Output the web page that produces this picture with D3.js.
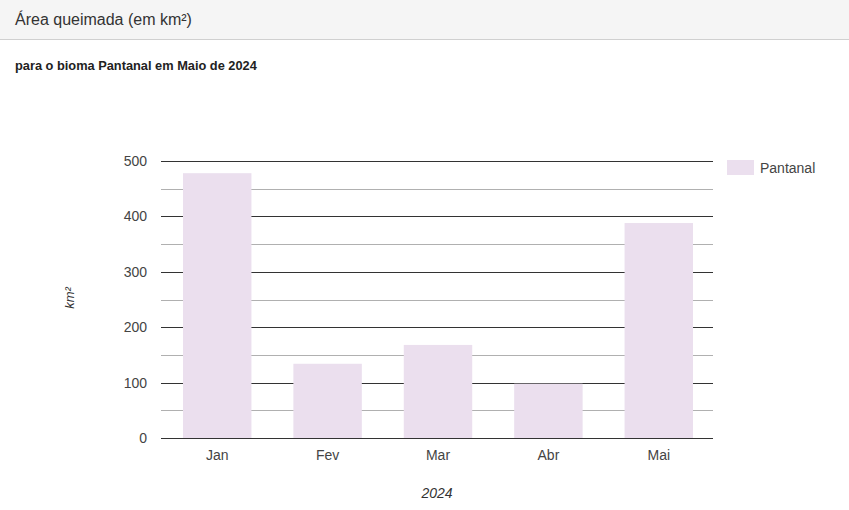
<!DOCTYPE html>
<html><head><meta charset="utf-8">
<script src="https://cdn.jsdelivr.net/npm/d3@7"></script>
<style>
body{margin:0;background:#fff;font-family:Arial,"Liberation Sans",sans-serif;}
</style></head>
<body><svg id="c" width="849" height="510"></svg>
<script>
const categories = ["Jan","Fev","Mar","Abr","Mai"];
const values = [478, 134, 168, 98, 388];
const seriesName = "Pantanal";
const yTicks = [0,100,200,300,400,500];
const yMinor = [50,150,250,350,450];

const svg = d3.select("#c");
const W=849,H=510;
svg.append("rect").attr("x",0).attr("y",0).attr("width",W).attr("height",39).attr("fill","#f5f5f5");
svg.append("line").attr("x1",0).attr("x2",W).attr("y1",39.5).attr("y2",39.5).attr("stroke","#d0d0d0");
svg.append("text").attr("x",15).attr("y",25).attr("font-size",16).attr("fill","#333").text("Área queimada (em km²)");
svg.append("text").attr("x",15).attr("y",70).attr("font-size",12.8).attr("font-weight","bold").attr("fill","#222").text("para o bioma Pantanal em Maio de 2024");

const x = d3.scaleBand().domain(categories).range([162,714]).paddingInner(0.38).paddingOuter(0.19);
const y = d3.scaleLinear().domain([0,500]).range([438,161]);

const g = svg.append("g");
g.selectAll("line.minor").data(yMinor).join("line").attr("class","minor")
 .attr("x1",161).attr("x2",713).attr("y1",d=>Math.round(y(d))+0.5).attr("y2",d=>Math.round(y(d))+0.5)
 .attr("stroke","#b0b0b0").attr("stroke-width",1);
g.selectAll("line.major").data(yTicks).join("line").attr("class","major")
 .attr("x1",161).attr("x2",713).attr("y1",d=>Math.round(y(d))+0.5).attr("y2",d=>Math.round(y(d))+0.5)
 .attr("stroke","#333").attr("stroke-width",1);

g.selectAll("rect.bar").data(values).join("rect").attr("class","bar")
 .attr("x",(d,i)=>x(categories[i])).attr("width",x.bandwidth())
 .attr("y",d=>y(d)).attr("height",d=>y(0)-y(d)).attr("fill","#ebdfee");

g.append("line").attr("x1",161).attr("x2",713).attr("y1",Math.round(y(0))+0.5).attr("y2",Math.round(y(0))+0.5).attr("stroke","#333");

const yAxis = d3.axisLeft(y).tickValues(yTicks).tickSize(0).tickPadding(14);
const ya = svg.append("g").attr("transform","translate(161,0)").call(yAxis);
ya.select(".domain").remove();
ya.selectAll("text").attr("font-size",14).attr("fill","#444").attr("font-family","Arial,'Liberation Sans',sans-serif");

const xAxis = d3.axisBottom(x).tickSize(0).tickPadding(12);
const xa = svg.append("g").attr("transform","translate(0,438)").call(xAxis);
xa.select(".domain").remove();
xa.selectAll("text").attr("font-size",14).attr("fill","#444").attr("font-family","Arial,'Liberation Sans',sans-serif");

svg.append("text").attr("transform","translate(74,298) rotate(-90)").attr("text-anchor","middle")
 .attr("font-size",13).attr("font-style","italic").attr("fill","#333").text("km²");
svg.append("text").attr("x",437).attr("y",498).attr("text-anchor","middle")
 .attr("font-size",14).attr("font-style","italic").attr("fill","#333").text("2024");

svg.append("rect").attr("x",727).attr("y",160).attr("width",27).attr("height",15).attr("fill","#ebdfee");
svg.append("text").attr("x",760).attr("y",173).attr("font-size",14).attr("fill","#444").text(seriesName);
</script></body></html>
